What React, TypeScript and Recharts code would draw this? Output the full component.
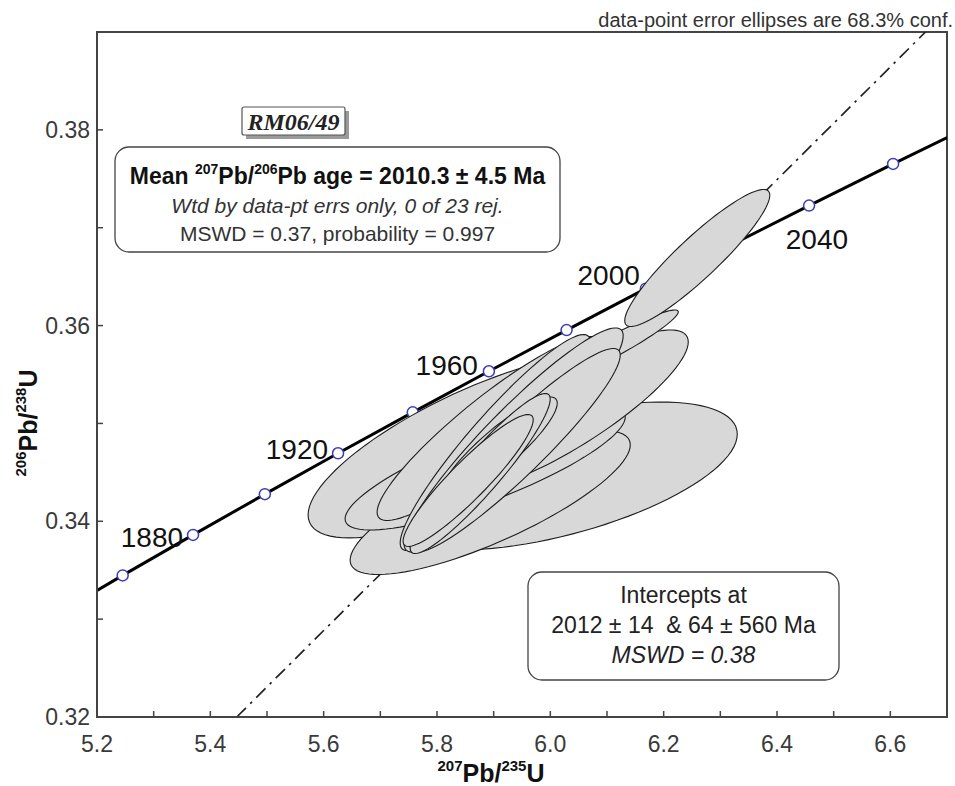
import React from "react";
import { ComposedChart, Line, Scatter, XAxis, YAxis, ReferenceArea } from "recharts";

// concordia, Ma -> ratios
const concordiaAges = [1840, 1860, 1880, 1900, 1920, 1940, 1960, 1980, 2000, 2020, 2040, 2060, 2080];
const concordiaX = [5.1234, 5.2453, 5.3695, 5.4962, 5.6254, 5.7572, 5.8916, 6.0287, 6.1685, 6.3111, 6.4566, 6.6049, 6.7562];
const concordiaY = [0.33033, 0.33447, 0.33861, 0.34277, 0.34695, 0.35113, 0.35533, 0.35954, 0.36377, 0.368, 0.37226, 0.37652, 0.3808];
const labelledAges = [1880, 1920, 1960, 2000, 2040];

// discordia (dash-dot), where it meets the frame
const discordiaX = [5.4466, 6.662];
const discordiaY = [0.32, 0.39];

// error ellipses: centre, half-extent in x / y, error correlation (drawn in this order)
const ellipseCx = [5.8656, 6.0174, 5.8939, 5.885, 6.0351, 6.1057, 5.8912, 5.9027, 5.9353, 5.938, 5.9089, 5.8762, 5.855, 6.2593];
const ellipseCy = [0.3477, 0.34463, 0.34192, 0.34545, 0.35137, 0.35771, 0.34948, 0.34805, 0.34831, 0.34724, 0.34744, 0.34488, 0.34417, 0.36691];
const ellipseSx = [0.2931, 0.3125, 0.2472, 0.2472, 0.2083, 0.1201, 0.1969, 0.1677, 0.1933, 0.1854, 0.1033, 0.1236, 0.1148, 0.128];
const ellipseSy = [0.0094, 0.00756, 0.00736, 0.00634, 0.00818, 0.00388, 0.0094, 0.01104, 0.01145, 0.01042, 0.00526, 0.00818, 0.00674, 0.007];
const ellipseRho = [0.75, 0.565, 0.8, 0.82, 0.85, 0.95, 0.91, 0.93, 0.93, 0.935, 0.88, 0.93, 0.92, 0.915];

const xTicks = [5.2, 5.3, 5.4, 5.5, 5.6, 5.7, 5.8, 5.9, 6.0, 6.1, 6.2, 6.3, 6.4, 6.5, 6.6];
const xTickLabels = ["5.2", "", "5.4", "", "5.6", "", "5.8", "", "6.0", "", "6.2", "", "6.4", "", "6.6"];
const yTicks = [0.32, 0.33, 0.34, 0.35, 0.36, 0.37, 0.38];
const yTickLabels = ["0.32", "", "0.34", "", "0.36", "", "0.38"];

// where each age label ends, relative to its marker
const labelOffsets: Record<number, [number, number]> = {
  1880: [-10, 12],
  1920: [-10, 6],
  1960: [-11, 4],
  2000: [-6, -4],
  2040: [39, 43],
};

const concordiaData = concordiaAges.map((age, i) => ({ age, x: concordiaX[i], y: concordiaY[i] }));
const markerData = concordiaData.filter((d) => d.age >= 1860 && d.age <= 2060);
const discordiaData = discordiaX.map((x, i) => ({ x, y: discordiaY[i] }));

const STEPS = 96;
const ellipseOutline = (i: number) => {
  const r = ellipseRho[i];
  const s = Math.sqrt(1 - r * r);
  const pts = [];
  for (let k = 0; k < STEPS; k++) {
    const t = (2 * Math.PI * k) / STEPS;
    pts.push({
      x: ellipseCx[i] + ellipseSx[i] * Math.cos(t),
      y: ellipseCy[i] + ellipseSy[i] * (r * Math.cos(t) + s * Math.sin(t)),
    });
  }
  return pts;
};

const FONT = "'Liberation Sans', Arial, sans-serif";
const TICK_STYLE = { fontSize: 23, fill: "#3a3a3a", fontFamily: FONT };

const Marker = (props: any) => {
  const { cx, cy, payload } = props;
  const off = labelOffsets[payload.age];
  return (
    <g>
      <circle cx={cx} cy={cy} r={5.5} fill="#fff" stroke="#3c3cb8" strokeWidth={1.5} />
      {off && labelledAges.includes(payload.age) ? (
        <text x={cx + off[0]} y={cy + off[1]} textAnchor="end" fontSize={28} fill="#111" fontFamily={FONT}>
          {payload.age}
        </text>
      ) : null}
    </g>
  );
};

const App: React.FC = () => {
  return (
    <div style={{ position: "absolute", left: 0, top: 0, width: 955, height: 786, background: "#fff" }}>
      <ComposedChart
        width={955}
        height={786}
        margin={{ top: 32, right: 8, bottom: 0, left: 0 }}
        style={{ fontFamily: FONT }}
      >
        <XAxis
          type="number"
          dataKey="x"
          domain={[5.2, 6.7]}
          ticks={xTicks}
          interval={0}
          allowDataOverflow
          height={69}
          tickSize={-6}
          tickMargin={25}
          tick={TICK_STYLE}
          tickFormatter={(v: number) => xTickLabels[xTicks.indexOf(v)] ?? ""}
          stroke="#444"
          axisLine={{ stroke: "#444", strokeWidth: 2 }}
          tickLine={{ stroke: "#444", strokeWidth: 1.5 }}
        />
        <YAxis
          type="number"
          dataKey="y"
          domain={[0.32, 0.39]}
          ticks={yTicks}
          interval={0}
          allowDataOverflow
          width={97}
          tickSize={-6}
          tickMargin={13}
          tick={TICK_STYLE}
          tickFormatter={(v: number) => yTickLabels[yTicks.indexOf(v)] ?? ""}
          stroke="#444"
          axisLine={{ stroke: "#444", strokeWidth: 2 }}
          tickLine={{ stroke: "#444", strokeWidth: 1.5 }}
        />
        <ReferenceArea x1={5.2} x2={6.7} y1={0.32} y2={0.39} fill="none" stroke="#444" strokeWidth={2} ifOverflow="visible" />
        <Line
          data={concordiaData}
          dataKey="y"
          type="monotone"
          stroke="#000"
          strokeWidth={3}
          dot={false}
          activeDot={false}
          isAnimationActive={false}
        />
        <Line
          data={discordiaData}
          dataKey="y"
          type="linear"
          stroke="#222"
          strokeWidth={1.7}
          strokeDasharray="13 6 2.5 6"
          dot={false}
          activeDot={false}
          isAnimationActive={false}
        />
        <Scatter data={markerData} dataKey="y" shape={Marker} isAnimationActive={false} />
        {ellipseCx.map((_, i) => (
          <Scatter
            key={i}
            data={ellipseOutline(i)}
            dataKey="y"
            shape={() => <g />}
            line={{ fill: "#d8d8d8", stroke: "#1e1e1e", strokeWidth: 1.1 }}
            lineJointType="linearClosed"
            isAnimationActive={false}
          />
        ))}
      </ComposedChart>

      <svg
        width={955}
        height={786}
        style={{ position: "absolute", left: 0, top: 0, pointerEvents: "none" }}
        fontFamily={FONT}
      >
        <text x={953} y={27} textAnchor="end" fontSize={20} fill="#333">
          data-point error ellipses are 68.3% conf.
        </text>

        <rect x={246} y={111} width={103} height={28} fill="#9a9a9a" />
        <rect x={242} y={107} width={103} height={28} fill="#fff" stroke="#555" strokeWidth={1.2} rx={2} />
        <text x={293.5} y={129.5} textAnchor="middle" fontSize={24} fontWeight="bold" fontStyle="italic" fontFamily="'Liberation Serif', 'Times New Roman', serif" fill="#222">
          RM06/49
        </text>

        <rect x={115} y={147} width={445} height={105} rx={14} fill="#fff" stroke="#444" strokeWidth={1.3} />
        <text x={337.5} y={184} textAnchor="middle" fontSize={23} fontWeight="bold" fill="#111">
          Mean <tspan fontSize={14} dy={-10}>207</tspan>
          <tspan dy={10}>Pb/</tspan>
          <tspan fontSize={14} dy={-10}>206</tspan>
          <tspan dy={10}>Pb age = 2010.3 ± 4.5 Ma</tspan>
        </text>
        <text x={337.5} y={213} textAnchor="middle" fontSize={21} fontStyle="italic" fill="#333">
          Wtd by data-pt errs only, 0 of 23 rej.
        </text>
        <text x={337.5} y={241} textAnchor="middle" fontSize={21} fill="#333">
          MSWD = 0.37, probability = 0.997
        </text>

        <rect x={528} y={572} width={311} height={108} rx={14} fill="#fff" stroke="#444" strokeWidth={1.3} />
        <text x={683.5} y={603} textAnchor="middle" fontSize={23} fill="#222">
          Intercepts at
        </text>
        <text x={683.5} y={633} textAnchor="middle" fontSize={23} fill="#222" style={{ whiteSpace: "pre" }}>
          {"2012 ± 14  & 64 ± 560 Ma"}
        </text>
        <text x={683.5} y={663} textAnchor="middle" fontSize={23} fontStyle="italic" fill="#222">
          MSWD = 0.38
        </text>

        <text x={491} y={782} textAnchor="middle" fontSize={25} fontWeight="bold" fill="#111">
          <tspan fontSize={15} dy={-11}>207</tspan>
          <tspan dy={11}>Pb/</tspan>
          <tspan fontSize={15} dy={-11}>235</tspan>
          <tspan dy={11}>U</tspan>
        </text>
        <text transform="translate(37,423) rotate(-90)" x={0} y={0} textAnchor="middle" fontSize={25} fontWeight="bold" fill="#111">
          <tspan fontSize={15} dy={-11}>206</tspan>
          <tspan dy={11}>Pb/</tspan>
          <tspan fontSize={15} dy={-11}>238</tspan>
          <tspan dy={11}>U</tspan>
        </text>
      </svg>
    </div>
  );
};

export default App;
